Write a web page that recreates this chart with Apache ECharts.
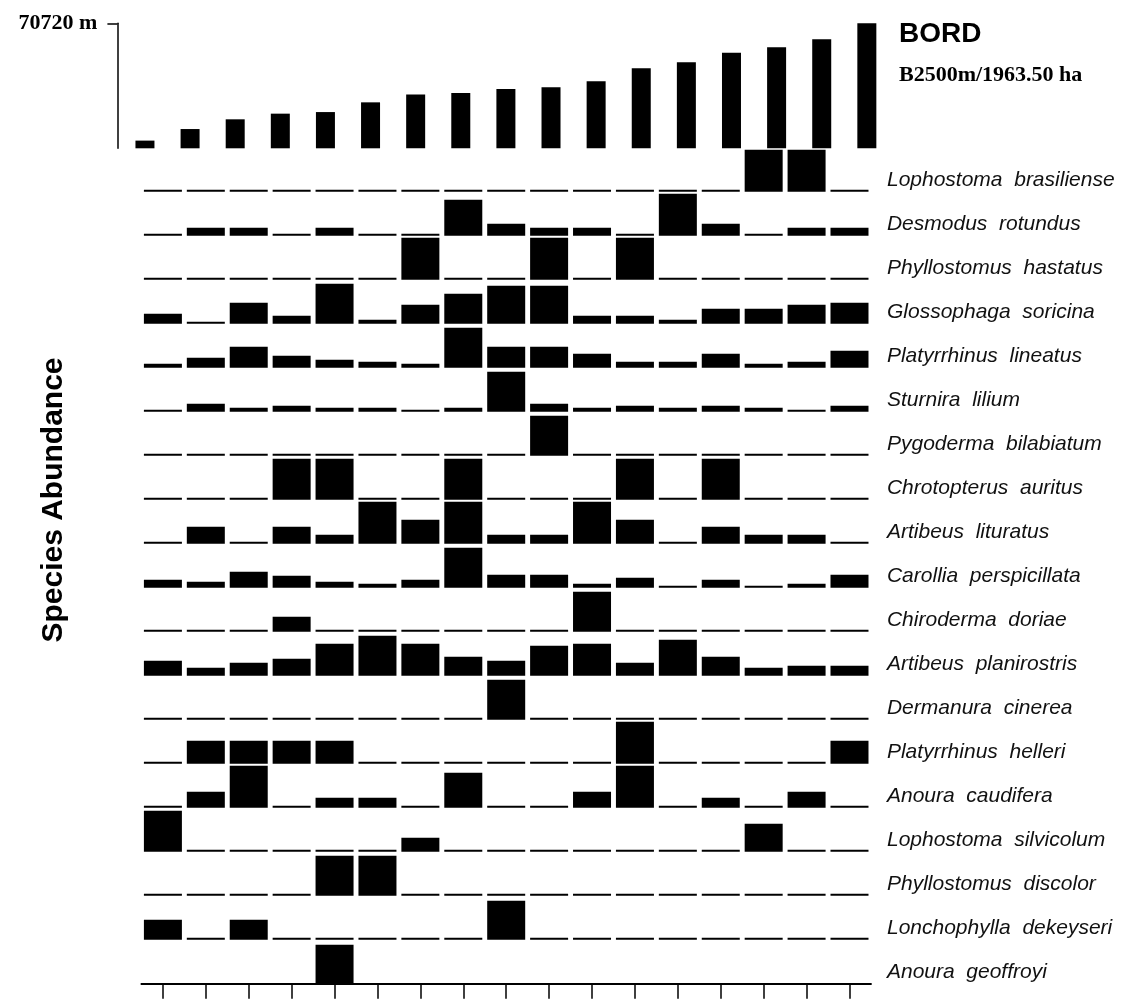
<!DOCTYPE html>
<html><head><meta charset="utf-8">
<script src="https://cdn.jsdelivr.net/npm/echarts@6/dist/echarts.min.js"></script>
<style>html,body{margin:0;padding:0;background:#fff}#c{width:1122px;height:1000px}</style>
</head><body><div id="c"></div>
<script>
// ---- data ----
const sites = ['S1','S2','S3','S4','S5','S6','S7','S8','S9','S10','S11','S12','S13','S14','S15','S16','S17'];
const edgeLength = [4350,10900,16400,19600,20500,26000,30400,31300,33500,34500,37900,45300,48700,54100,57100,61700,70720];
const edgeMax = 70720;
const speciesNames = [
  'Lophostoma brasiliense','Desmodus rotundus','Phyllostomus hastatus','Glossophaga soricina',
  'Platyrrhinus lineatus','Sturnira lilium','Pygoderma bilabiatum','Chrotopterus auritus',
  'Artibeus lituratus','Carollia perspicillata','Chiroderma doriae','Artibeus planirostris',
  'Dermanura cinerea','Platyrrhinus helleri','Anoura caudifera','Lophostoma silvicolum',
  'Phyllostomus discolor','Lonchophylla dekeyseri','Anoura geoffroyi'
];
const lophostomaBrasiliense = [0,0,0,0,0,0,0,0,0,0,0,0,0,0,42,42,0];
const desmodusRotundus      = [0,8,8,0,8,0,0,36,12,8,8,0,42,12,0,8,8];
const phyllostomusHastatus  = [0,0,0,0,0,0,42,0,0,42,0,42,0,0,0,0,0];
const glossophagaSoricina   = [10,0,21,8,40,4,19,30,38,38,8,8,4,15,15,19,21];
const platyrrhinusLineatus  = [4,10,21,12,8,6,4,40,21,21,14,6,6,14,4,6,17];
const sturniraLilium        = [0,8,4,6,4,4,0,4,40,8,4,6,4,6,4,0,6];
const pygodermaBilabiatum   = [0,0,0,0,0,0,0,0,0,40,0,0,0,0,0,0,0];
const chrotopterusAuritus   = [0,0,0,41,41,0,0,41,0,0,0,41,0,41,0,0,0];
const artibeusLituratus     = [0,17,0,17,9,42,24,42,9,9,42,24,0,17,9,9,0];
const carolliaPerspicillata = [8,6,16,12,6,4,8,40,13,13,4,10,0,8,0,4,13];
const chirodermaDoriae      = [0,0,0,15,0,0,0,0,0,0,40,0,0,0,0,0,0];
const artibeusPlanirostris  = [15,8,13,17,32,40,32,19,15,30,32,13,36,19,8,10,10];
const dermanuraCinerea      = [0,0,0,0,0,0,0,0,40,0,0,0,0,0,0,0,0];
const platyrrhinusHelleri   = [0,23,23,23,23,0,0,0,0,0,0,42,0,0,0,0,23];
const anouraCaudifera       = [0,16,42,0,10,10,0,35,0,0,16,42,0,10,0,16,0];
const lophostomaSilvicolum  = [41,0,0,0,0,0,14,0,0,0,0,0,0,0,28,0,0];
const phyllostomusDiscolor  = [0,0,0,0,40,40,0,0,0,0,0,0,0,0,0,0,0];
const lonchophyllaDekeyseri = [20,0,20,0,0,0,0,0,39,0,0,0,0,0,0,0,0];
const anouraGeoffroyi       = [0,0,0,0,39,0,0,0,0,0,0,0,0,0,0,0,0];
const abundanceRows = [lophostomaBrasiliense,desmodusRotundus,phyllostomusHastatus,glossophagaSoricina,
  platyrrhinusLineatus,sturniraLilium,pygodermaBilabiatum,chrotopterusAuritus,artibeusLituratus,
  carolliaPerspicillata,chirodermaDoriae,artibeusPlanirostris,dermanuraCinerea,platyrrhinusHelleri,
  anouraCaudifera,lophostomaSilvicolum,phyllostomusDiscolor,lonchophyllaDekeyseri,anouraGeoffroyi];
const abundanceMax = 44;

// ---- layout ----
const ROW_BASE0 = 191.7, ROW_PITCH = 44;
const grids = [{left:122.4, width:767, top:23.3, height:125, outerBoundsMode:'none'}];
const xAxes = [{type:'category', gridIndex:0, data:sites, show:false}];
const yAxes = [{
  type:'value', gridIndex:0, min:0, max:edgeMax, offset:5,
  axisLine:{show:true, lineStyle:{color:'#000', width:1.5}},
  axisTick:{show:true, customValues:[edgeMax], length:10, lineStyle:{color:'#000', width:1.5}},
  axisLabel:{customValues:[edgeMax], formatter:v=>v+' m', margin:20, color:'#000',
    fontFamily:'Liberation Serif', fontWeight:'bold', fontSize:22, padding:[0,0,8,0]},
  splitLine:{show:false}
}];
const series = [{
  type:'bar', xAxisIndex:0, yAxisIndex:0, data:edgeLength, barWidth:19,
  itemStyle:{color:'#000'}, silent:true
}];
const nRows = abundanceRows.length;
abundanceRows.forEach((row,i)=>{
  const gi = i+1, last = i===nRows-1;
  grids.push({left:141.45, width:729.5, top:ROW_BASE0+ROW_PITCH*i-44, height:44, outerBoundsMode:'none'});
  xAxes.push({type:'category', gridIndex:gi, data:sites,
    axisLine:{show:last, lineStyle:{color:'#000', width:2}},
    axisTick:{show:last, alignWithLabel:true, length:15, lineStyle:{color:'#000', width:1.5}},
    axisLabel:{show:false}, splitLine:{show:false}});
  yAxes.push({type:'value', gridIndex:gi, min:0, max:abundanceMax, position:'right',
    axisLine:{show:false}, axisTick:{show:false}, splitLine:{show:false},
    axisLabel:{customValues:[12], formatter:()=>speciesNames[i].replace(' ','  '), margin:16,
      color:'#111', fontFamily:'Liberation Sans', fontStyle:'italic', fontSize:21}});
  series.push({type:'bar', xAxisIndex:gi, yAxisIndex:gi, data:row, barWidth:38,
    barMinHeight: last ? 0 : 2, clip:false, silent:true, itemStyle:{color:'#000'}});
});

const chart = echarts.init(document.getElementById('c'), null, {renderer:'canvas'});
chart.setOption({
  animation:false,
  backgroundColor:'#fff',
  title:{text:'BORD', subtext:'B2500m/1963.50 ha', left:894, top:15, itemGap:16,
    textStyle:{fontFamily:'Liberation Sans', fontWeight:'bold', fontSize:28, color:'#000'},
    subtextStyle:{fontFamily:'Liberation Serif', fontWeight:'bold', fontSize:22, color:'#000'}},
  grid:grids, xAxis:xAxes, yAxis:yAxes, series:series,
  graphic:[{type:'text', x:54, y:500, rotation:Math.PI/2,
    style:{text:'Species Abundance', font:'bold 30px "Liberation Sans"', fill:'#000',
      textAlign:'center', textVerticalAlign:'middle'}}]
});
</script></body></html>
